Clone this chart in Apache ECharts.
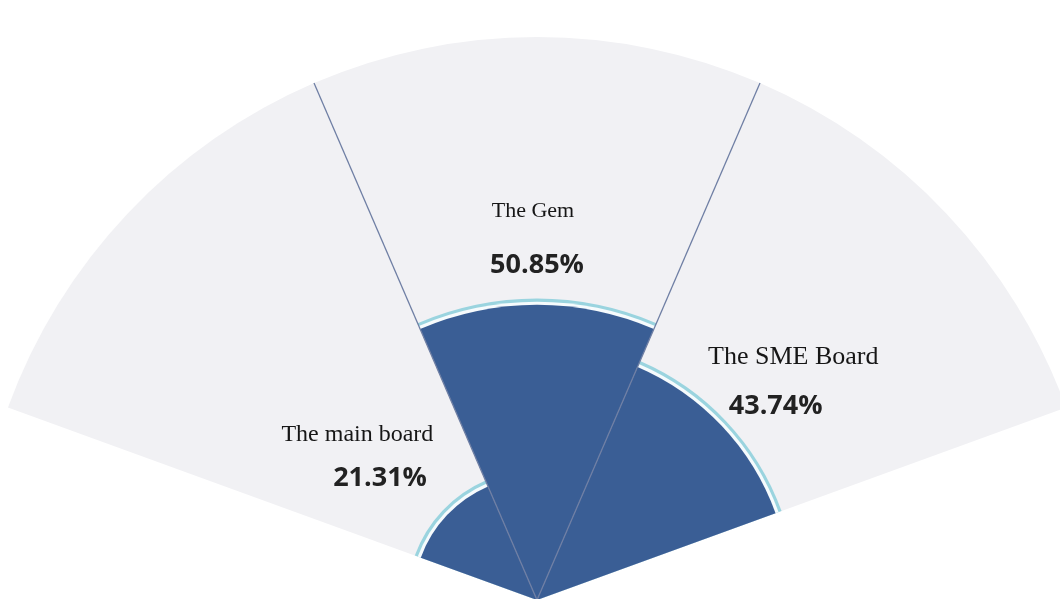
<!DOCTYPE html>
<html>
<head>
<meta charset="utf-8">
<style>
  html, body { margin: 0; padding: 0; background: #ffffff; }
  #chart { width: 1060px; height: 599px; }
</style>
<script src="https://cdn.jsdelivr.net/npm/echarts@6/dist/echarts.min.js"></script>
</head>
<body>
<div id="chart"></div>
<script>
// ---- data ----
const categories = ['The main board', 'The Gem', 'The SME Board'];
const shares = [21.31, 50.85, 43.74];          // percent
const backgroundExtent = [97, 97, 97];         // light fan behind the bars

// ---- styling (not data) ----
const RING_GAP = 1.1;      // cyan outline sits just outside the dark sector
const WHITE_GAP = 0.55;
const valueOffsets = [[-67, -37], [0, -40], [54, -19]];
const nameOffsets  = [[-85, -76], [-4, -87], [67, -64]];
const nameSizes    = [24, 22, 26];
const LINE_COLOR = '#6f7fa4';

const chart = echarts.init(document.getElementById('chart'), null, { renderer: 'canvas' });

const ringData = shares.map((v, i) => ({
  value: v + RING_GAP,
  label: { offset: nameOffsets[i], fontSize: nameSizes[i] }
}));
const whiteData = shares.map(v => v + WHITE_GAP);
const darkData = shares.map((v, i) => ({
  value: v,
  label: { offset: valueOffsets[i] }
}));

const common = {
  type: 'bar',
  coordinateSystem: 'polar',
  barGap: '-100%',
  barCategoryGap: '0%',
  silent: true,
  animation: false
};

chart.setOption({
  backgroundColor: '#ffffff',
  animation: false,
  polar: { center: [537, 600], radius: 563 },
  angleAxis: {
    type: 'category',
    data: categories,
    startAngle: 160,
    endAngle: 20,
    clockwise: true,
    boundaryGap: true,
    z: 10,
    axisLine: { show: false },
    axisTick: { show: false },
    axisLabel: { show: false },
    splitLine: {
      show: true,
      lineStyle: {
        color: ['rgba(0,0,0,0)', LINE_COLOR, LINE_COLOR, 'rgba(0,0,0,0)'],
        width: 1.3
      }
    }
  },
  radiusAxis: {
    type: 'value',
    min: 0,
    max: 'dataMax',
    axisLine: { show: false },
    axisTick: { show: false },
    axisLabel: { show: false },
    splitLine: { show: false }
  },
  series: [
    Object.assign({}, common, {
      name: 'bg', data: backgroundExtent,
      itemStyle: { color: '#f1f1f4' }
    }),
    Object.assign({}, common, {
      name: 'ring', data: ringData,
      itemStyle: { color: '#9ad4df' },
      label: {
        show: true, position: 'end', distance: 0, rotate: 0,
        align: 'center', verticalAlign: 'middle',
        formatter: '{b}',
        fontFamily: '"Liberation Serif", "DejaVu Serif", serif',
        fontSize: 24, color: '#161616'
      }
    }),
    Object.assign({}, common, {
      name: 'gap', data: whiteData,
      itemStyle: { color: '#f6fbfd' }
    }),
    Object.assign({}, common, {
      name: 'share', data: darkData,
      itemStyle: { color: '#3a5e95' },
      label: {
        show: true, position: 'end', distance: 0, rotate: 0,
        align: 'center', verticalAlign: 'middle',
        formatter: p => p.value.toFixed(2) + '%',
        fontFamily: '"Open Sans", "Noto Sans", sans-serif',
        fontWeight: 'bold',
        fontSize: 27, color: '#222222'
      }
    })
  ]
});
</script>
</body>
</html>
